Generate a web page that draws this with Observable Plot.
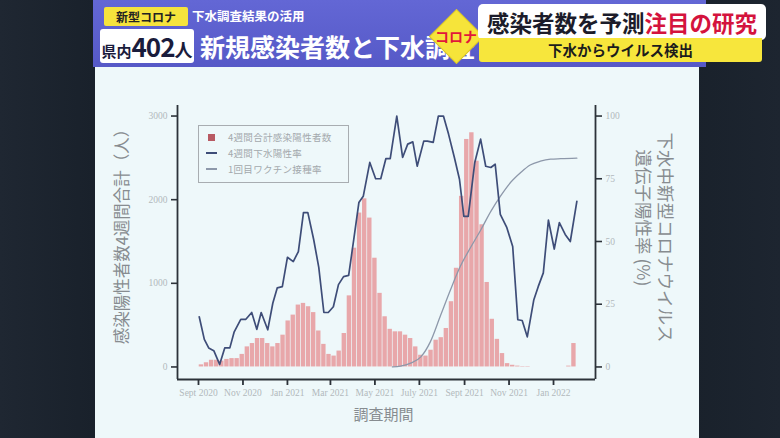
<!DOCTYPE html>
<html lang="ja"><head><meta charset="utf-8">
<script src="https://cdn.jsdelivr.net/npm/d3@7"></script>
<script src="https://cdn.jsdelivr.net/npm/@observablehq/plot@0.6"></script>
<style>
html,body{margin:0;padding:0;background:#1a212b;}
#stage{position:relative;width:780px;height:438px;overflow:hidden;background:linear-gradient(90deg,#1f2732 0,#19212b 12%,#19212b 88%,#1d2530 100%);font-family:"Noto Sans CJK JP","Noto Sans",sans-serif;}
#stage > div{position:absolute;}
#slide{left:95px;top:67px;width:604px;height:371px;background:#eef8fa;}
#chart{left:95px;top:67px;}
#banner{left:93px;top:0;width:613px;height:67px;background:linear-gradient(#6367d5,#5659c7);}
#tag{left:104px;top:7px;width:84px;height:19px;background:#f5e33c;color:#222;font-size:12px;font-weight:700;line-height:19px;text-align:center;border-radius:2px;}
#sub{left:192px;top:6px;color:#fff;font-size:12.5px;font-weight:700;line-height:19px;white-space:nowrap;}
#count{left:100px;top:29px;width:94px;height:34px;background:#fff;border-radius:3px;color:#1a1c3c;font-weight:700;white-space:nowrap;line-height:34px;text-align:center;}
#title{left:200px;top:30px;color:#fff;font-size:25px;font-weight:700;line-height:32px;white-space:nowrap;}
#diamond{left:437px;top:17px;width:37px;height:37px;background:#f6e43a;transform:rotate(45deg);border:1px solid #d6c42a;}
#dtext{left:428px;top:26px;width:56px;text-align:center;color:#e2173a;font-size:14px;font-weight:700;line-height:20px;}
#hbox{left:478px;top:4px;width:288px;height:36px;background:#fff;border-radius:5px;color:#1c1c2a;font-size:22.5px;font-weight:700;line-height:36px;text-align:center;white-space:nowrap;}
#hbox span{color:#d4133d;}
#ybar{left:479px;top:38px;width:283px;height:24px;background:#f7e63c;color:#1c1c1c;font-size:14.5px;font-weight:700;line-height:24px;text-align:center;border-radius:0 0 3px 3px;}
#legend{left:198px;top:125px;width:151px;height:58px;border:1px solid #a8adb1;box-sizing:border-box;}
.lrow{position:absolute;left:0;height:14px;width:100%;font-size:9.5px;color:#a3a8ac;line-height:14px;white-space:nowrap;letter-spacing:0.3px;}
.lkey{position:absolute;}
.ltxt{position:absolute;left:29px;top:0;}
</style></head>
<body>
<div id="stage">
  <div id="slide"></div>
  <div id="chart"></div>
  <div id="legend"></div>
  <div id="banner"></div>
  <div id="tag">新型コロナ</div>
  <div id="sub">下水調査結果の活用</div>
  <div id="count"><span style="font-size:15px">県内</span><span style="font-size:26px;letter-spacing:-1px">402</span><span style="font-size:18px">人</span></div>
  <div id="title">新規感染者数と下水調査</div>
  <div id="diamond"></div>
  <div id="dtext">コロナ</div>
  <div id="hbox">感染者数を予測<span>注目の研究</span></div>
  <div id="ybar">下水からウイルス検出</div>
</div>
<script>
// ---- data ----
const barStartDate = "2020-09-05"; // weekly 4-week totals
const casesWeekly = [25,50,80,80,70,90,100,100,150,240,
  280,340,340,280,240,280,380,550,620,740,
  760,720,650,430,270,150,130,190,400,850,
  1420,1840,2010,1780,1300,880,600,450,420,420,
  380,340,240,140,130,200,320,350,460,780,
  1180,2040,2720,2800,2460,1700,1010,570,330,160,
  40,20,10,5,5,
  0,0,0,0,0,0,0,
  10,280];

const sewageDates = ["2020-09-02","2020-09-09","2020-09-15","2020-09-22","2020-09-30","2020-10-07","2020-10-14","2020-10-20","2020-10-29","2020-11-05",
  "2020-11-13","2020-11-20","2020-11-26","2020-12-05","2020-12-12","2020-12-18","2020-12-25","2021-01-01","2021-01-09","2021-01-16",
  "2021-01-23","2021-01-29","2021-02-06","2021-02-13","2021-02-20","2021-02-26","2021-03-05","2021-03-12","2021-03-19","2021-03-26",
  "2021-04-02","2021-04-09","2021-04-15","2021-04-24","2021-05-02","2021-05-09","2021-05-16","2021-05-22","2021-05-31","2021-06-08",
  "2021-06-15","2021-06-22","2021-06-28","2021-07-07","2021-07-12","2021-07-20","2021-07-27","2021-08-03","2021-08-10","2021-08-18",
  "2021-08-25","2021-08-31","2021-09-06","2021-09-15","2021-09-23","2021-09-30","2021-10-07","2021-10-13","2021-10-20","2021-10-29",
  "2021-11-06","2021-11-13","2021-11-19","2021-11-26","2021-12-05","2021-12-11","2021-12-18","2021-12-25","2022-01-02","2022-01-09",
  "2022-01-17","2022-01-24","2022-02-02"];
const sewageRate = [20,11,7.6,6.5,1,7.6,7.6,14,19,19,
  21.7,15,21.7,14.8,25.5,31.5,32,43.7,42,46,
  61.5,61.5,50.8,39.7,21.7,21.7,24,32.8,36,36.5,
  50.8,65.5,68,81.5,75,75,83,83,100,83.5,
  88.8,89.7,80,90,90,89.5,100,100,92.8,83.5,
  74.8,60,60,81.5,90.8,80,79.5,80.8,60.8,55.5,
  48,18.8,18.5,12,26.8,32,37.5,58.5,47,57.5,
  52.8,50,66];

const vaccineDates = ["2021-05-25","2021-06-05","2021-06-19","2021-07-03","2021-07-16","2021-07-30","2021-08-13","2021-08-26","2021-09-09","2021-09-23",
  "2021-10-07","2021-10-20","2021-11-03","2021-11-17","2021-11-30","2021-12-14","2021-12-28","2022-01-11","2022-02-02"];
const vaccineRate = [0,0.3,1.5,4,10,20.5,31,40,47.5,54.5,62,68,73.5,77.5,80.5,82,82.8,83,83.2];

const caseTicks = [0, 1000, 2000, 3000];
const rateTicks = [0, 25, 50, 75, 100];
const xTickDates = ["2020-09-01","2020-11-01","2021-01-01","2021-03-01","2021-05-01","2021-07-01","2021-09-01","2021-11-01","2022-01-01"];
const xTickLabels = ["Sept 2020","Nov 2020","Jan 2021","Mar 2021","May 2021","July 2021","Sept 2021","Nov 2021","Jan 2022"];
const legendLabels = ["4週間合計感染陽性者数","4週間下水陽性率","1回目ワクチン接種率"];
const yTitle = "感染陽性者数4週間合計（人）";
const rTitle1 = "下水中新型コロナウイルス";
const rTitle2 = "遺伝子陽性率 (%)";
const xTitle = "調査期間";

// ---- build ----
const parse = d3.utcParse("%Y-%m-%d");
const firstBar = parse(barStartDate);
const bars = casesWeekly.map((v, i) => ({date: d3.utcDay.offset(firstBar, 7 * i), value: v}));
const sewage = sewageDates.map((d, i) => ({date: parse(d), rate: sewageRate[i]}));
const vaccine = vaccineDates.map((d, i) => ({date: parse(d), rate: vaccineRate[i]}));
const RATE = 30; // 100% on the right axis ↔ 3000 on the left axis
const xDomain = [new Date(Date.UTC(2020, 7, 3, 5)), new Date(Date.UTC(2022, 1, 27, 14))];
const yDomain = [-150, 3126];
const xLabelMap = new Map(xTickDates.map((d, i) => [+parse(d), xTickLabels[i]]));

const axisColor = "#2c3239";
const tickText = "#b2b8bc";
const titleColor = "#878c90";
const cjk = "'Noto Sans CJK JP', sans-serif";
const barColor = "#e8a7aa";
const sewageColor = "#3e4d78";
const vaccineColor = "#8d98aa";

const chart = Plot.plot({
  width: 605, height: 371,
  marginLeft: 82, marginRight: 105, marginTop: 38, marginBottom: 59,
  style: {background: "transparent", fontFamily: "'Liberation Serif', serif", overflow: "visible"},
  x: {type: "utc", domain: xDomain},
  y: {domain: yDomain},
  marks: [
    Plot.rect(bars, {x1: d => d3.utcHour.offset(d.date, -72), x2: d => d3.utcHour.offset(d.date, 72), y1: 0, y2: "value", fill: barColor}),
    Plot.line(vaccine, {x: "date", y: d => d.rate * RATE, stroke: vaccineColor, strokeWidth: 1.3, curve: "monotone-x"}),
    Plot.line(sewage, {x: "date", y: d => d.rate * RATE, stroke: sewageColor, strokeWidth: 1.7}),
    Plot.ruleX(xDomain, {stroke: axisColor, strokeWidth: 1.8}),
    Plot.ruleY([yDomain[0]], {stroke: axisColor, strokeWidth: 1.8}),
    Plot.axisY({anchor: "left", ticks: caseTicks, tickFormat: d => String(d), tickSize: 6, tickPadding: 4,
      stroke: axisColor, strokeWidth: 1.6, fill: tickText, fontSize: 9.5, label: null}),
    Plot.axisY({anchor: "right", ticks: rateTicks.map(v => v * RATE), tickFormat: d => String(Math.round(d / RATE)), tickSize: 6, tickPadding: 4,
      stroke: axisColor, strokeWidth: 1.6, fill: tickText, fontSize: 9.5, label: null}),
    Plot.axisX({ticks: xTickDates.map(parse), tickFormat: d => xLabelMap.get(+d), tickSize: 6, tickPadding: 4,
      stroke: axisColor, strokeWidth: 1.8, fill: tickText, fontSize: 9.5, label: null}),
    Plot.text([yTitle], {text: d => d, frameAnchor: "left", textAnchor: "middle", lineAnchor: "middle", rotate: -90,
      dx: -55, dy: -10, fontSize: 16.5, fill: titleColor, fontFamily: cjk}),
    Plot.text([rTitle1], {text: d => d, frameAnchor: "top-right", textAnchor: "start", lineAnchor: "middle", rotate: 90,
      dx: 69, dy: 27, fontSize: 17.5, fill: titleColor, fontFamily: cjk}),
    Plot.text([rTitle2], {text: d => d, frameAnchor: "top-right", textAnchor: "start", lineAnchor: "middle", rotate: 90,
      dx: 47, dy: 44, fontSize: 17.5, fill: titleColor, fontFamily: cjk}),
    Plot.text([xTitle], {text: d => d, frameAnchor: "bottom", textAnchor: "middle", lineAnchor: "middle",
      dx: -3, dy: 36, fontSize: 15, fill: titleColor, fontFamily: cjk})
  ]
});
document.getElementById("chart").append(chart);

// legend
const legend = document.getElementById("legend");
const keys = [
  {type: "square", color: "#b85a63"},
  {type: "line", color: sewageColor},
  {type: "line", color: vaccineColor}
];
legendLabels.forEach((label, i) => {
  const row = document.createElement("div");
  row.className = "lrow";
  row.style.top = (4 + i * 16) + "px";
  const key = document.createElement("div");
  key.className = "lkey";
  if (keys[i].type === "square") {
    Object.assign(key.style, {left: "9px", top: "3.5px", width: "7px", height: "7px", background: keys[i].color});
  } else {
    Object.assign(key.style, {left: "7px", top: "6px", width: "11px", height: "1.6px", background: keys[i].color});
  }
  const txt = document.createElement("div");
  txt.className = "ltxt";
  txt.textContent = label;
  row.append(key, txt);
  legend.append(row);
});
</script>
</body></html>
